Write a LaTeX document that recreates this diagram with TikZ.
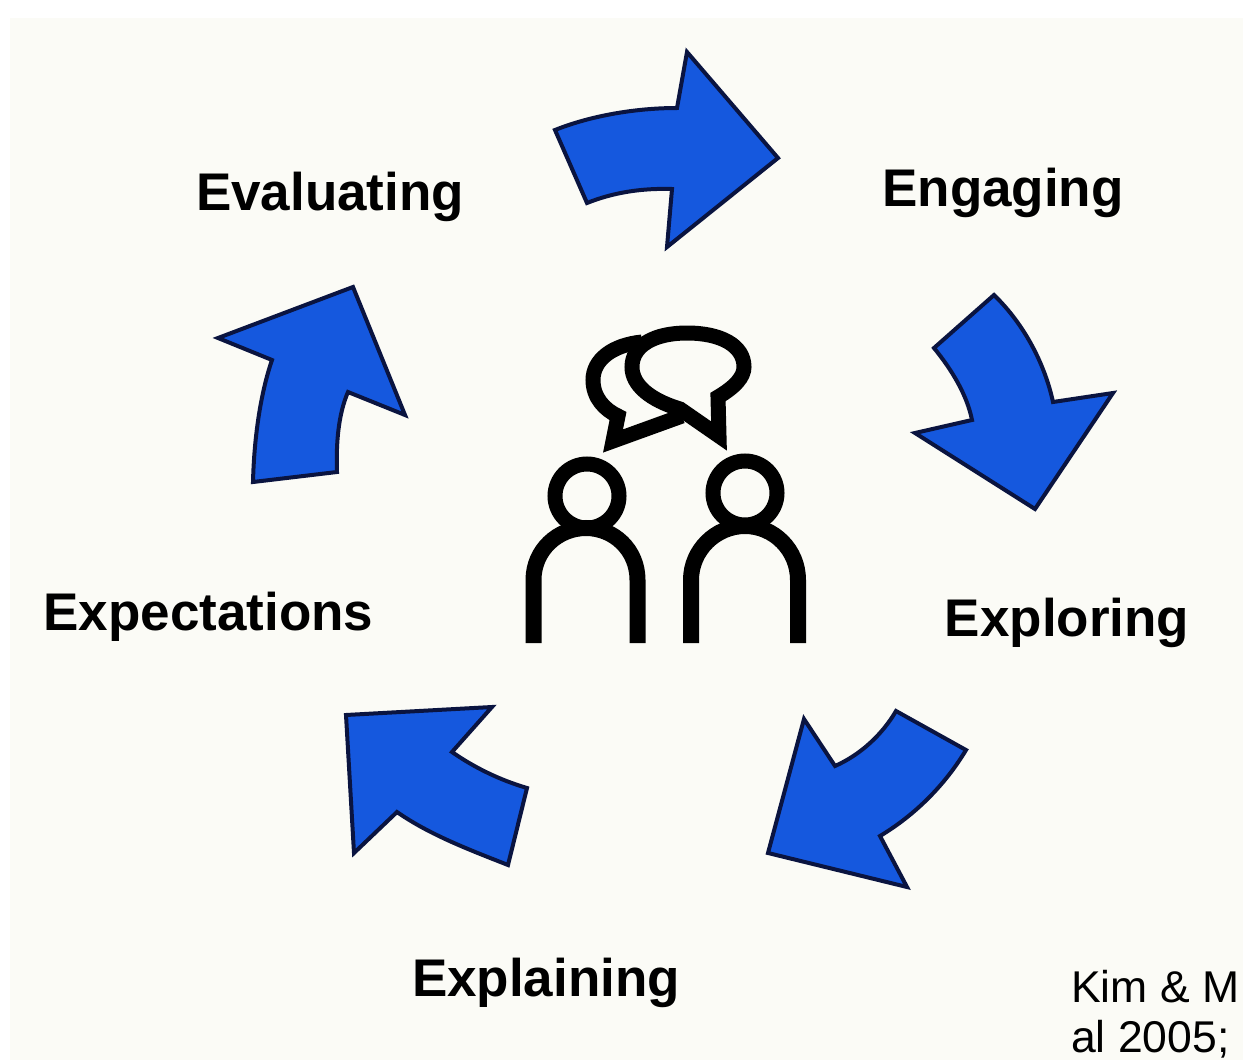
\documentclass[tikz,border=0pt]{standalone}
\usepackage{fontspec}
\setmainfont{Liberation Sans}
\definecolor{paper}{HTML}{FBFBF6}
\definecolor{arrowblue}{HTML}{1558DE}
\definecolor{arrowline}{HTML}{0A1440}
\tikzset{
  x=1pt,y=-1pt,
  blue arrow/.style={fill=arrowblue,draw=arrowline,line width=4pt,line join=miter,miter limit=3},
  bubble/.style={draw=black,line width=15pt,line join=miter,miter limit=6,line cap=butt},
  head/.style={draw=black,line width=15pt,circle,minimum size=64pt,inner sep=0pt},
  body/.style={draw=black,line width=16pt,line cap=butt},
  lab/.style={font=\bfseries\fontsize{53}{58}\selectfont,text=black,inner sep=0pt,anchor=base},
  cite/.style={font=\fontsize{44.5}{50}\selectfont,text=black,inner sep=0pt,anchor=base west},
}
\begin{document}
\begin{tikzpicture}
\useasboundingbox (0,0) rectangle (1243,1060);
\fill[white] (0,0) rectangle (1243,1060);
\fill[paper] (10,18) rectangle (1243,1060);
% arrows
\draw[blue arrow] (555,130) .. controls (590,116) and (635,108) .. (677,108) -- (687,52) -- (778,158) -- (667,247) -- (672,189) .. controls (640,188) and (612,193) .. (587,203) -- cycle;
\draw[blue arrow] (994,295) .. controls (1025,325) and (1045,365) .. (1053,402) -- (1113,393) -- (1035,509) -- (915,433) -- (972,420) .. controls (967,395) and (952,370) .. (934,348) -- cycle;
\draw[blue arrow] (896,711) -- (966,750) .. controls (945,785) and (915,815) .. (880,836) -- (907,887) -- (768,853) -- (804,719) -- (835,766) .. controls (860,755) and (882,735) .. (896,711) -- cycle;
\draw[blue arrow] (527,788) -- (508,865) .. controls (470,850) and (430,835) .. (397,812) -- (354,853) -- (346,715) -- (492,707) -- (452,752) .. controls (475,768) and (500,780) .. (527,788) -- cycle;
\draw[blue arrow] (253,482) .. controls (254,440) and (260,395) .. (272,360) -- (218,338) -- (353,287) -- (405,415) -- (348,392) .. controls (338,415) and (336,445) .. (337,472) -- cycle;
% speech bubbles
\draw[bubble] (642,342) .. controls (612,345) and (593,360) .. (593,380) .. controls (593,398) and (605,410) .. (618,416) -- (613,441) -- (682,416);
\draw[bubble,fill=paper] (718,397) .. controls (735,387) and (744,377) .. (744,367) .. controls (744,345) and (720,333) .. (687,333) .. controls (655,333) and (632,345) .. (632,367) .. controls (632,385) and (650,400) .. (680,409) -- (719,436) -- cycle;
% people
\node[head] (headL) at (587,496) {};
\node[head] (headR) at (745,493) {};
\draw[body] (533.5,643) -- (533.5,580) .. controls (533.5,550) and (558,528) .. (586,528) .. controls (614,528) and (637.5,550) .. (637.5,580) -- (637.5,643);
\draw[body] (691,643) -- (691,580) .. controls (691,550) and (716,526) .. (745,526) .. controls (774,526) and (798,550) .. (798,580) -- (798,643);
% labels
\node[lab] (evaluating) at (330,210) {Evaluating};
\node[lab] (engaging) at (1003,206) {Engaging};
\node[lab] (exploring) at (1067,636) {Exploring};
\node[lab] (expectations) at (208.5,630) {Expectations};
\node[lab] (explaining) at (546,996) {Explaining};
\node[cite] (cite1) at (1071,1002) {Kim \& M};
\node[cite] (cite2) at (1071,1052.5) {al 2005;};
\end{tikzpicture}
\end{document}
